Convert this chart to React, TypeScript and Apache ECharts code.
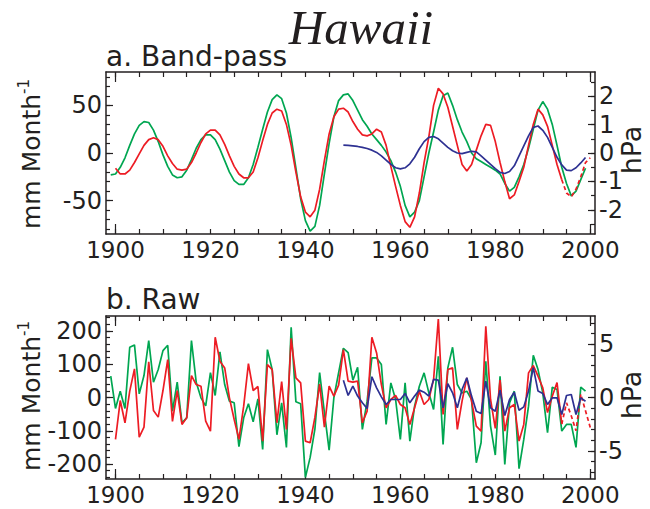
import React, { useEffect, useRef } from "react";
import * as echarts from "echarts";

// ---------- data ----------
const bpGreenStart = 1899;
const bpGreen = [
  -23, -22, -15, -5, 8, 20, 29, 33, 32, 24, 12, -2, -14, -23, -26, -25, -18, -7, 5, 14, 19,
  19, 14, 4, -8, -20, -29, -33, -33, -26, -12, 6, 25, 43, 56, 61, 57, 42, 16, -16, -48,
  -71, -82, -77, -55, -22, 10, 38, 55, 61, 62, 55, 45, 35, 28, 20, 14, 8, 1, -8, -20,
  -35, -55, -67, -62, -50, -25, 0, 22, 45, 60, 63, 50, 35, 22, 12, 0, -6, -9, -12, -15,
  -18, -22, -32, -40, -36, -25, -12, 5, 25, 45, 54, 46, 30, 8, -15, -32, -45, -40, -28, -16,
];
const bpRedStart = 1900;
const bpRed = [
  -16, -22, -22, -18, -10, -1, 8, 14, 16, 14, 7, -3, -11, -17, -18, -17, -10, 0, 11, 20,
  24, 24, 19, 9, -3, -14, -22, -26, -26, -20, -5, 13, 30, 42, 46, 44, 30, 8, -20, -46,
  -62, -67, -60, -38, -8, 20, 38, 46, 47, 43, 33, 25, 19, 18, 20, 25, 22, 8, -14, -35,
  -55, -72, -78, -67, -42, -10, 17, 50, 68, 62, 48, 28, 8, -12, -19, -12, 3, 18, 30, 29,
  12, -10, -30, -48, -44, -30, -15, 8, 30, 46, 40, 28, 8, -12, -28, -42, -46, -38, -25, -10, -5,
];
const bpBlueStart = 1948;
const bpBlue = [
  0.28, 0.27, 0.25, 0.23, 0.2, 0.16, 0.1, 0.02, -0.1, -0.25, -0.4, -0.52, -0.56, -0.52,
  -0.38, -0.15, 0.15, 0.4, 0.55, 0.58, 0.5, 0.35, 0.2, 0.08, 0.0, -0.02, 0.02, 0.06, 0.04,
  -0.1, -0.25, -0.4, -0.55, -0.68, -0.72, -0.65, -0.45, -0.1, 0.25, 0.6, 0.9, 0.95, 0.8,
  0.55, 0.2, -0.15, -0.42, -0.6, -0.62, -0.52, -0.35, -0.16,
];

const rawGreenStart = 1899;
const rawGreen = [
  64, -33, 19, -33, 151, 158, 11, 66, 171, 46, 84, 141, 157, -41, 46, -76, -61, 171, 46, -1,
  -25, 75, 6, 137, 39, -11, -16, -148, -61, -19, -73, -4, -156, 144, 84, -112, -16, -150, 211,
  -13, -19, -240, -180, -95, 75, -45, -158, 0, 75, 148, 135, 52, 91, -96, -11, 119, 119, 99,
  -81, 44, -6, -126, 44, -131, -26, 34, 74, 14, -36, 124, -141, 89, 151, 39, 14, 19, -6, -196,
  -136, 109, -86, -173, 64, -201, -16, 19, -214, -126, -26, 127, 84, 14, -106, 31, 24, -101,
  -81, -81, -150, 31, 19,
];
const rawRedStart = 1900;
const rawRed = [
  -126, -9, -76, 19, 86, -119, -89, 107, -39, -59, 21, 114, -72, 21, -81, -61, 66, 39, 34,
  -71, -101, 181, 109, 89, -1, -66, -126, -26, 102, 21, 33, -131, 99, 84, -76, 48, -96, 178,
  59, 44, -131, -136, -60, 40, -89, 34, 4, 37, 144, 49, 46, 49, -76, -41, 181, 134, 39, -31,
  -6, 6, -21, -31, -81, -31, 19, -21, -6, 54, 236, -51, 84, 89, -96, -11, 59, -11, -86, -101,
  214, -6, -93, 52, -101, -31, -21, -131, -81, 74, 96, 64, 29, -45, 4, 45, -80, -16, -55,
  -100, 10, -40, -90,
];
const rawBlueStart = 1948;
const rawBlue = [
  1.63, 0.19, 1.07, 0.13, -0.5, -1.04, 1.95, 0.91, 0.06, -0.66, -0.19, -0.19, -0.19, 0.38,
  -0.5, 0.13, 0.69, 0.5, 0.13, 1.7, 1.63, -0.97, 1.29, 0.44, -0.97, 0.75, 1.85, 0.13, -1.29,
  -1.51, 1.54, -0.97, -1.29, 0.69, -1.7, -0.19, 0.5, -1.19, -0.88, 0.6, 2.8, 0.6, 0.38, -0.66,
  -0.03, -0.03, -1.6, 0.19, 0.28, -1.6, -0.03, -0.35,
];
const dashFromYear = 1994;

const yearLabels = [1900, 1920, 1940, 1960, 1980, 2000];
const yearTicks = [1900, 1905, 1910, 1915, 1920, 1925, 1930, 1935, 1940, 1945, 1950, 1955, 1960, 1965, 1970, 1975, 1980, 1985, 1990, 1995, 2000];
const yearEnds = [1900, 2000];

const aLeftLabels = [-50, 0, 50];
const aLeftMinor = [-80, -70, -60, -50, -40, -30, -20, -10, 0, 10, 20, 30, 40, 50, 60, 70, 80];
const aRightLabels = [-2, -1, 0, 1, 2];
const aRightMinor = [-2.5, -2, -1.5, -1, -0.5, 0, 0.5, 1, 1.5, 2, 2.5];
const bLeftLabels = [-200, -100, 0, 100, 200];
const bLeftMinor = [-240, -220, -200, -180, -160, -140, -120, -100, -80, -60, -40, -20, 0, 20, 40, 60, 80, 100, 120, 140, 160, 180, 200, 220, 240];
const bRightLabels = [-5, 0, 5];
const bRightMinor = [-7, -6, -5, -4, -3, -2, -1, 0, 1, 2, 3, 4, 5, 6, 7];

// ---------- helpers ----------
const pairs = (start: number, vals: number[]) => vals.map((v, i) => [start + i, v]);

const AX = "#231f20";
const FONT = "DejaVu Sans";
const GREEN = "#00a651";
const RED = "#ed1c24";
const BLUE = "#2e3192";

function xAxesFor(gridIndex: number) {
  const base = {
    gridIndex,
    type: "value",
    min: 1898,
    max: 2001,
    splitLine: { show: false },
  };
  return [
    {
      ...base,
      position: "bottom",
      axisLine: { show: true, onZero: false, lineStyle: { color: AX, width: 1.5 } },
      axisTick: { show: true, inside: true, length: 5, customValues: yearTicks, lineStyle: { color: AX, width: 1.2 } },
      axisLabel: {
        show: true,
        customValues: yearLabels,
        fontSize: 23,
        lineHeight: 24,
        fontFamily: FONT,
        color: AX,
        margin: 4,
        formatter: (v: number) => String(v),
      },
    },
    {
      ...base,
      position: "top",
      axisLine: { show: true, onZero: false, lineStyle: { color: AX, width: 1.5 } },
      axisTick: { show: true, inside: true, length: 5, customValues: yearTicks, lineStyle: { color: AX, width: 1.2 } },
      axisLabel: { show: false },
    },
    {
      ...base,
      position: "bottom",
      axisLine: { show: false, onZero: false },
      axisTick: { show: true, inside: true, length: 10, customValues: yearEnds, lineStyle: { color: AX, width: 1.2 } },
      axisLabel: { show: false },
    },
    {
      ...base,
      position: "top",
      axisLine: { show: false, onZero: false },
      axisTick: { show: true, inside: true, length: 10, customValues: yearEnds, lineStyle: { color: AX, width: 1.2 } },
      axisLabel: { show: false },
    },
  ];
}

function yAxesFor(
  gridIndex: number,
  lmin: number,
  lmax: number,
  lLabels: number[],
  lMinor: number[],
  rmin: number,
  rmax: number,
  rLabels: number[],
  rMinor: number[]
) {
  const lab = { fontSize: 24, fontFamily: FONT, color: AX };
  return [
    {
      gridIndex, type: "value", min: lmin, max: lmax, position: "left",
      splitLine: { show: false },
      axisLine: { show: true, onZero: false, lineStyle: { color: AX, width: 1.5 } },
      axisTick: { show: true, inside: true, length: 7, customValues: lLabels, lineStyle: { color: AX, width: 1.2 } },
      axisLabel: { show: true, customValues: lLabels, margin: 4, ...lab },
    },
    {
      gridIndex, type: "value", min: lmin, max: lmax, position: "left",
      splitLine: { show: false },
      axisLine: { show: false, onZero: false },
      axisTick: { show: true, inside: true, length: 4, customValues: lMinor, lineStyle: { color: AX, width: 1.2 } },
      axisLabel: { show: false },
    },
    {
      gridIndex, type: "value", min: rmin, max: rmax, position: "right",
      splitLine: { show: false },
      axisLine: { show: true, onZero: false, lineStyle: { color: AX, width: 1.5 } },
      axisTick: { show: true, inside: true, length: 7, customValues: rLabels, lineStyle: { color: AX, width: 1.2 } },
      axisLabel: { show: true, customValues: rLabels, margin: 4, ...lab },
    },
    {
      gridIndex, type: "value", min: rmin, max: rmax, position: "right",
      splitLine: { show: false },
      axisLine: { show: false, onZero: false },
      axisTick: { show: true, inside: true, length: 4, customValues: rMinor, lineStyle: { color: AX, width: 1.2 } },
      axisLabel: { show: false },
    },
  ];
}

function line(name: string, data: number[][], color: string, xAxisIndex: number, yAxisIndex: number, dashed = false) {
  return {
    name,
    type: "line",
    data,
    xAxisIndex,
    yAxisIndex,
    showSymbol: false,
    symbol: "none",
    lineStyle: { color, width: 1.7, type: dashed ? [4, 3] : "solid" },
    itemStyle: { color },
    z: 3,
  };
}

function axisNameLeft(y: number) {
  return {
    type: "text",
    x: 31,
    y,
    rotation: Math.PI / 2,
    style: {
      text: "{a|mm Month}{b|-1}",
      align: "center",
      verticalAlign: "middle",
      rich: {
        a: { fontSize: 25, fontFamily: FONT, fill: AX, lineHeight: 30 },
        b: { fontSize: 15, fontFamily: FONT, fill: AX, verticalAlign: "top", lineHeight: 30 },
      },
    },
  };
}

function axisNameRight(y: number) {
  return {
    type: "text",
    x: 631,
    y,
    rotation: Math.PI / 2,
    style: {
      text: "hPa",
      align: "center",
      verticalAlign: "middle",
      fontSize: 27,
      fontFamily: FONT,
      fill: AX,
    },
  };
}

export default function App() {
  const ref = useRef<HTMLDivElement>(null);
  useEffect(() => {
    if (!ref.current) return;
    const chart = echarts.init(ref.current, undefined, { renderer: "svg" });

    const bpR = pairs(bpRedStart, bpRed);
    const rawR = pairs(rawRedStart, rawRed);

    const option: any = {
      animation: false,
      backgroundColor: "#ffffff",
      grid: [
        { left: 106, top: 72, width: 489, height: 162 },
        { left: 106, top: 316, width: 489, height: 163 },
      ],
      xAxis: [...xAxesFor(0), ...xAxesFor(1)],
      yAxis: [
        ...yAxesFor(0, -85, 85, aLeftLabels, aLeftMinor, -2.85, 2.85, aRightLabels, aRightMinor),
        ...yAxesFor(1, -245, 245, bLeftLabels, bLeftMinor, -7.65, 7.65, bRightLabels, bRightMinor),
      ],
      series: [
        line("bp-green", pairs(bpGreenStart, bpGreen), GREEN, 0, 0),
        line("bp-red", bpR.filter((p) => p[0] <= dashFromYear), RED, 0, 0),
        line("bp-red-dash", bpR.filter((p) => p[0] >= dashFromYear), RED, 0, 0, true),
        line("bp-blue", pairs(bpBlueStart, bpBlue), BLUE, 0, 2),
        line("raw-green", pairs(rawGreenStart, rawGreen), GREEN, 4, 4),
        line("raw-red", rawR.filter((p) => p[0] <= dashFromYear), RED, 4, 4),
        line("raw-red-dash", rawR.filter((p) => p[0] >= dashFromYear), RED, 4, 4, true),
        line("raw-blue", pairs(rawBlueStart, rawBlue), BLUE, 4, 6),
      ],
      graphic: [
        {
          type: "text",
          x: 361,
          y: 27,
          style: {
            text: "Hawaii",
            align: "center",
            verticalAlign: "middle",
            fontSize: 49,
            fontStyle: "italic",
            fontFamily: "Liberation Serif",
            fill: AX,
          },
        },
        {
          type: "text",
          x: 106,
          y: 56,
          style: { text: "a. Band-pass", align: "left", verticalAlign: "middle", fontSize: 28, fontFamily: FONT, fill: AX },
        },
        {
          type: "text",
          x: 106,
          y: 299,
          style: { text: "b. Raw", align: "left", verticalAlign: "middle", fontSize: 28, fontFamily: FONT, fill: AX },
        },
        axisNameLeft(154),
        axisNameLeft(396),
        axisNameRight(150),
        axisNameRight(395),
      ],
    };
    chart.setOption(option);
    return () => chart.dispose();
  }, []);
  return <div ref={ref} style={{ position: "fixed", left: 0, top: 0, width: 650, height: 509 }} />;
}
